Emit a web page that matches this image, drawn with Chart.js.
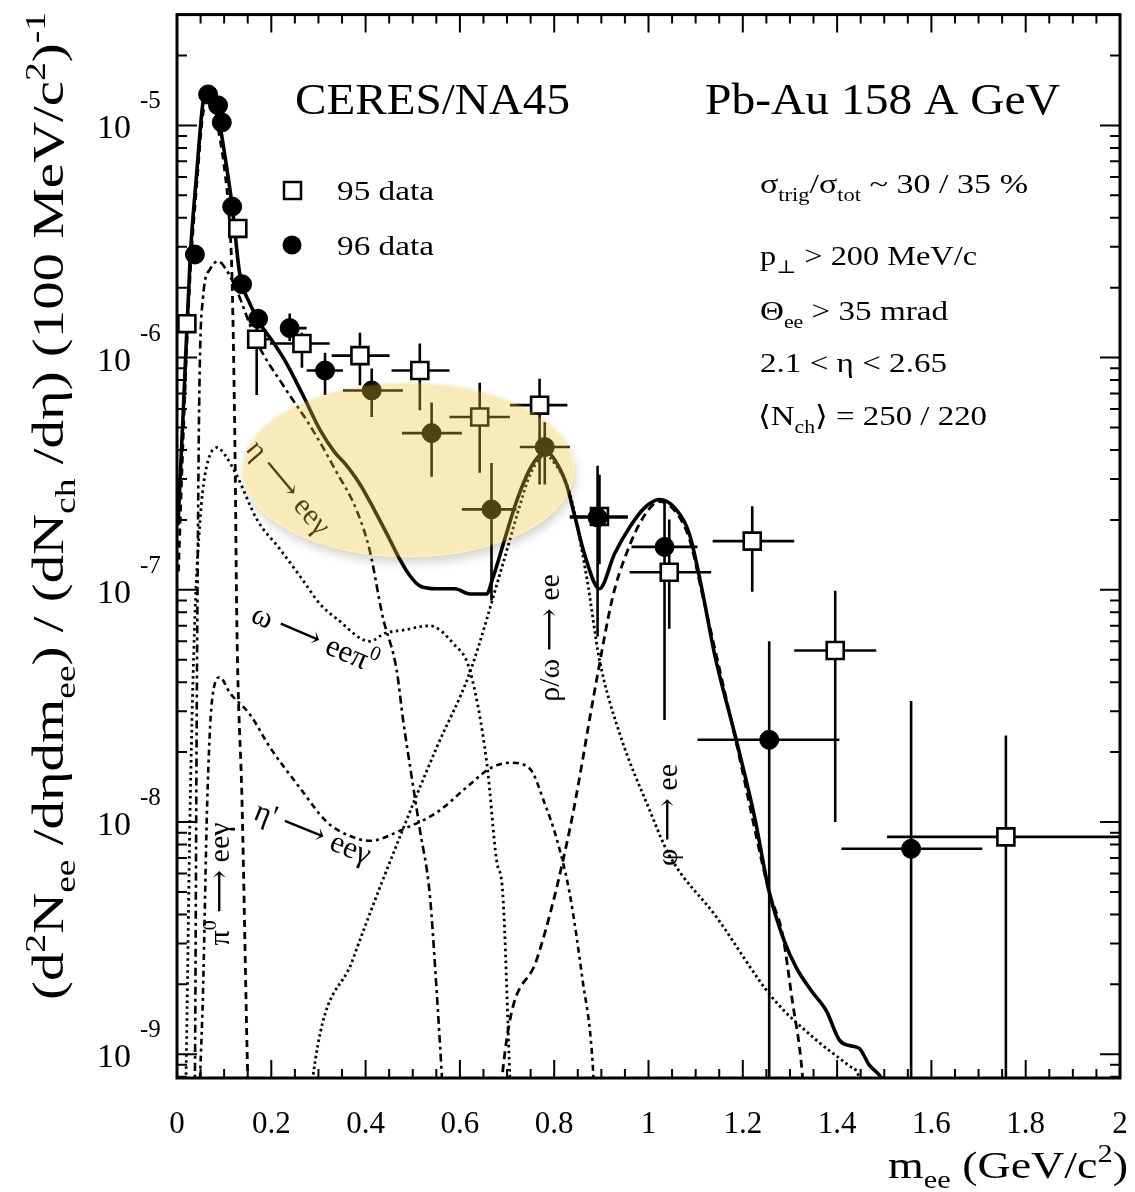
<!DOCTYPE html>
<html>
<head>
<meta charset="utf-8">
<script src="https://cdn.jsdelivr.net/npm/chart.js@4"></script>
<style>
  html, body { margin: 0; background: #fff; }
</style>
</head>
<body>
<canvas id="chart" width="1135" height="1192"></canvas>
<script>
const FONT = '"Liberation Serif", "DejaVu Serif", serif';

// Cocktail curves (m_ee in GeV/c^2, yield per 100 MeV)
const totalM = [0.002, 0.013, 0.028, 0.042, 0.055, 0.064, 0.074, 0.087, 0.102, 0.117, 0.133, 0.155, 0.176, 0.197, 0.229, 0.267, 0.303, 0.335, 0.356, 0.388, 0.419, 0.451, 0.472, 0.494, 0.515, 0.551, 0.589, 0.621, 0.657, 0.669, 0.695, 0.720, 0.748, 0.769, 0.784, 0.801, 0.826, 0.843, 0.864, 0.896, 0.928, 0.960, 0.992, 1.023, 1.055, 1.087, 1.114, 1.140, 1.186, 1.225, 1.256, 1.288, 1.314, 1.345, 1.377, 1.405, 1.426, 1.447, 1.468, 1.494, 1.52];
const totalY = [1.9e-7, 5.7e-7, 2.7e-6, 6.3e-6, 1.25e-5, 1.38e-5, 1.3e-5, 1.1e-5, 7.3e-6, 4.5e-6, 2.3e-6, 1.7e-6, 1.4e-6, 1.22e-6, 9.7e-7, 6.9e-7, 4.9e-7, 3.9e-7, 3.5e-7, 2.85e-7, 2.2e-7, 1.65e-7, 1.36e-7, 1.15e-7, 1.04e-7, 1.01e-7, 1.01e-7, 9.6e-8, 9.6e-8, 1.11e-7, 1.65e-7, 2.4e-7, 3.3e-7, 3.8e-7, 3.93e-7, 3.63e-7, 2.84e-7, 2.1e-7, 1.43e-7, 1.01e-7, 1.43e-7, 1.86e-7, 2.26e-7, 2.45e-7, 2.26e-7, 1.73e-7, 9.9e-8, 5.3e-8, 2.26e-8, 1.05e-8, 5.0e-9, 3.07e-9, 2.35e-9, 1.88e-9, 1.54e-9, 1.15e-9, 1.09e-9, 1.06e-9, 9.0e-10, 7.9e-10, 6e-10];

const pi0M = [0.003, 0.013, 0.028, 0.042, 0.055, 0.066, 0.076, 0.088, 0.102, 0.110, 0.117, 0.123, 0.127, 0.138, 0.150, 0.155];
const pi0Y = [1.2e-7, 4.5e-7, 2.3e-6, 5.6e-6, 1.12e-5, 1.28e-5, 1.18e-5, 9.5e-6, 6.2e-6, 4.2e-6, 2.1e-6, 4e-7, 7e-8, 1.2e-8, 8e-10, 4e-10];

const etaM = [0.036, 0.038, 0.042, 0.047, 0.055, 0.070, 0.087, 0.104, 0.127, 0.170, 0.225, 0.282, 0.339, 0.381, 0.409, 0.436, 0.466, 0.479, 0.497, 0.515, 0.536, 0.551, 0.562, 0.570];
const etaY = [4e-10, 7.9e-10, 3.3e-8, 6.2e-7, 1.8e-6, 2.4e-6, 2.6e-6, 2.4e-6, 1.94e-6, 1.16e-6, 7.6e-7, 5.1e-7, 3.2e-7, 2.2e-7, 1.47e-7, 7.7e-8, 4.5e-8, 2.8e-8, 1.6e-8, 9.3e-9, 4.9e-9, 1.83e-9, 7.9e-10, 4e-10];

const omegaDalM = [0.015, 0.019, 0.028, 0.038, 0.049, 0.059, 0.085, 0.102, 0.127, 0.170, 0.218, 0.267, 0.303, 0.339, 0.409, 0.441, 0.479, 0.536, 0.585, 0.621, 0.657, 0.678, 0.691, 0.706, 0.712];
const omegaDalY = [4e-10, 7.9e-10, 1.2e-8, 7.7e-8, 2.0e-7, 3.1e-7, 4.1e-7, 3.8e-7, 3.1e-7, 2.0e-7, 1.5e-7, 1.1e-7, 8.7e-8, 7.5e-8, 6.0e-8, 6.5e-8, 6.7e-8, 7.0e-8, 5.9e-8, 4.5e-8, 1.8e-8, 6.8e-9, 4.9e-9, 7.9e-10, 4e-10];

const etaPrimeM = [0.045, 0.049, 0.055, 0.064, 0.074, 0.091, 0.112, 0.155, 0.197, 0.261, 0.318, 0.367, 0.409, 0.479, 0.551, 0.621, 0.663, 0.706, 0.748, 0.780, 0.805, 0.833, 0.860, 0.881, 0.890];
const etaPrimeY = [4e-10, 7.9e-10, 1.8e-9, 1.2e-8, 3.3e-8, 4.2e-8, 3.6e-8, 2.9e-8, 2.1e-8, 1.4e-8, 1.0e-8, 8.7e-9, 8.3e-9, 9.3e-9, 1.1e-8, 1.45e-8, 1.7e-8, 1.8e-8, 1.7e-8, 1.2e-8, 8.5e-9, 4.9e-9, 2.1e-9, 9.5e-10, 4e-10];

const rhoM = [0.280, 0.288, 0.373, 0.479, 0.551, 0.621, 0.691, 0.727, 0.748, 0.780, 0.801, 0.833, 0.869, 0.896, 0.939, 1.002, 1.044, 1.144, 1.263, 1.356, 1.426, 1.447, 1.46];
const rhoY = [5e-10, 7.9e-10, 2.56e-9, 9.3e-9, 2.1e-8, 4.4e-8, 1.29e-7, 2.3e-7, 3.1e-7, 3.8e-7, 3.5e-7, 2.6e-7, 1.13e-7, 5.0e-8, 2.4e-8, 1.13e-8, 7.2e-9, 3.9e-9, 1.75e-9, 1.15e-9, 8.9e-10, 7.9e-10, 5e-10];

const phiM = [0.685, 0.691, 0.763, 0.833, 0.890, 0.924, 0.953, 0.992, 1.023, 1.055, 1.087, 1.114, 1.186, 1.256, 1.284, 1.305, 1.326, 1.333];
const phiY = [5e-10, 8.5e-10, 2.56e-9, 9.3e-9, 4.1e-8, 9.3e-8, 1.43e-7, 2.1e-7, 2.4e-7, 2.2e-7, 1.65e-7, 9.6e-8, 2.2e-8, 5.0e-9, 3.3e-9, 1.7e-9, 8.3e-10, 5e-10];

// 95 data (open squares)
const m95   = [0.021, 0.129, 0.169, 0.265, 0.388, 0.515, 0.642, 0.769, 0.896, 1.044, 1.220, 1.396, 1.758];
const y95   = [1.40e-6, 3.6e-6, 1.2e-6, 1.15e-6, 1.02e-6, 8.8e-7, 5.55e-7, 6.24e-7, 2.07e-7, 1.19e-7, 1.62e-7, 5.48e-8, 8.63e-9];
const m95Lo = [0.021, 0.129, 0.159, 0.197, 0.328, 0.455, 0.578, 0.706, 0.833, 0.960, 1.136, 1.309, 1.506];
const m95Hi = [0.021, 0.129, 0.197, 0.324, 0.451, 0.578, 0.706, 0.828, 0.956, 1.133, 1.309, 1.483, 2.0];
const y95Lo = [1.40e-6, 3.6e-6, 6.9e-7, 9.05e-7, 7.6e-7, 5.94e-7, 3.19e-7, 2.84e-7, 1.29e-7, 6.8e-8, 9.8e-8, 1.0e-8, 1e-10];
const y95Hi = [1.40e-6, 3.6e-6, 1.45e-6, 1.28e-6, 1.28e-6, 1.15e-6, 7.8e-7, 8.1e-7, 3.13e-7, 2.01e-7, 2.29e-7, 9.9e-8, 2.36e-8];

// 96 data (filled circles)
const m96   = [0.038, 0.066, 0.087, 0.095, 0.117, 0.138, 0.172, 0.239, 0.314, 0.413, 0.540, 0.667, 0.780, 0.892, 1.034, 1.256, 1.557];
const y96   = [2.78e-6, 1.36e-5, 1.22e-5, 1.03e-5, 4.47e-6, 2.07e-6, 1.47e-6, 1.34e-6, 8.8e-7, 7.22e-7, 4.73e-7, 2.22e-7, 4.12e-7, 2.05e-7, 1.53e-7, 2.26e-8, 7.67e-9];
const m96Lo = [0.038, 0.066, 0.087, 0.095, 0.117, 0.138, 0.172, 0.225, 0.275, 0.352, 0.477, 0.604, 0.727, 0.833, 0.964, 1.104, 1.409];
const m96Hi = [0.038, 0.066, 0.087, 0.095, 0.117, 0.138, 0.172, 0.275, 0.352, 0.479, 0.604, 0.720, 0.833, 0.956, 1.104, 1.405, 1.708];
const y96Lo = [2.78e-6, 1.36e-5, 1.22e-5, 1.03e-5, 4.47e-6, 2.07e-6, 1.47e-6, 1.18e-6, 6.9e-7, 5.55e-7, 3.07e-7, 9e-8, 2.84e-7, 6.3e-8, 2.75e-8, 1e-10, 1e-10];
const y96Hi = [2.78e-6, 1.36e-5, 1.22e-5, 1.03e-5, 4.47e-6, 2.07e-6, 1.47e-6, 1.55e-6, 1.05e-6, 8.97e-7, 6.4e-7, 3.52e-7, 5.27e-7, 3.42e-7, 2.45e-7, 6.0e-8, 3.32e-8];

// axes
const xTicks = [0, 0.2, 0.4, 0.6, 0.8, 1, 1.2, 1.4, 1.6, 1.8, 2];
const xTickLabels = ['0', '0.2', '0.4', '0.6', '0.8', '1', '1.2', '1.4', '1.6', '1.8', '2'];
const yDecades = [-9, -8, -7, -6, -5];

// highlighted region (data coords)
const hlM = [0.138, 0.843];
const hlY = [1.38e-7, 7.8e-7];

const pts = (ms, ys) => ms.map((m, i) => ({ x: m, y: ys[i] }));

function drawRich(ctx, parts, x, y, size, align, fitW) {
  const list = parts.map(p => Array.isArray(p) ? { t: p[0], k: p[1] } : { t: p, k: '' });
  let w = 0;
  list.forEach(s => {
    s.size = s.k ? size * 0.66 : size;
    ctx.font = s.size + 'px ' + FONT;
    s.w = ctx.measureText(s.t).width;
    w += s.w;
  });
  const sx = fitW ? fitW / w : 1;
  const tw = w * sx;
  const x0 = align === 'center' ? x - tw / 2 : align === 'right' ? x - tw : x;
  ctx.save();
  ctx.translate(x0, y);
  ctx.scale(sx, 1);
  ctx.textAlign = 'left';
  ctx.textBaseline = 'alphabetic';
  let cx = 0;
  list.forEach(s => {
    ctx.font = s.size + 'px ' + FONT;
    const dy = s.k === 'sub' ? size * 0.28 : s.k === 'sup' ? -size * 0.42 : 0;
    ctx.fillText(s.t, cx, dy);
    cx += s.w;
  });
  ctx.restore();
}

function rotLabel(ctx, parts, cx, cy, deg, size) {
  ctx.save();
  ctx.translate(cx, cy);
  ctx.rotate(deg * Math.PI / 180);
  drawRich(ctx, parts, 0, size * 0.33, size, 'center');
  ctx.restore();
}

const decor = {
  id: 'decor',
  beforeDatasetsDraw(chart) {
    const { ctx, chartArea: a, scales: { x, y } } = chart;
    ctx.save();
    ctx.beginPath();
    ctx.rect(a.left, a.top, a.right - a.left, a.bottom - a.top);
    ctx.clip();
    ctx.strokeStyle = '#000';
    ctx.lineWidth = 2.6;
    const bars = (ms, lo, hi, ys, ylo, yhi) => ms.forEach((m, i) => {
      const px = x.getPixelForValue(m), py = y.getPixelForValue(ys[i]);
      ctx.beginPath();
      ctx.moveTo(x.getPixelForValue(lo[i]), py);
      ctx.lineTo(x.getPixelForValue(hi[i]), py);
      ctx.moveTo(px, y.getPixelForValue(ylo[i]));
      ctx.lineTo(px, y.getPixelForValue(yhi[i]));
      ctx.stroke();
    });
    bars(m95, m95Lo, m95Hi, y95, y95Lo, y95Hi);
    bars(m96, m96Lo, m96Hi, y96, y96Lo, y96Hi);
    ctx.restore();
  },
  afterDatasetsDraw(chart) {
    const { ctx, scales: { x, y } } = chart;
    ctx.save();
    ctx.fillStyle = '#000';
    // curve labels
    rotLabel(ctx, ['η ⟶ eeγ'], 289, 487, 50, 30);
    rotLabel(ctx, ['ω ⟶ eeπ', ['0', 'sup']], 315, 638, 23, 31);
    rotLabel(ctx, ["η' ⟶ eeγ"], 313, 832, 22, 31);
    rotLabel(ctx, ['π', ['0', 'sup'], ' ⟶ eeγ'], 219, 884, -90, 30);
    rotLabel(ctx, ['ρ/ω ⟶ ee'], 549, 638, -90, 30);
    rotLabel(ctx, ['φ ⟶ ee'], 667, 815, -90, 30);

    // highlight ellipse
    const x0 = x.getPixelForValue(hlM[0]), x1 = x.getPixelForValue(hlM[1]);
    const y0 = y.getPixelForValue(hlY[1]), y1 = y.getPixelForValue(hlY[0]);
    const cx = (x0 + x1) / 2, cy = (y0 + y1) / 2, rx = (x1 - x0) / 2, ry = (y1 - y0) / 2;
    ctx.save();
    ctx.beginPath();
    ctx.rect(0, 0, chart.width, chart.height);
    ctx.ellipse(cx, cy, rx, ry, 0, 0, Math.PI * 2);
    ctx.clip('evenodd');
    ctx.filter = 'blur(5px)';
    ctx.fillStyle = 'rgba(0,0,0,0.16)';
    ctx.beginPath();
    ctx.ellipse(cx + 2, cy + 6, rx, ry, 0, 0, Math.PI * 2);
    ctx.fill();
    ctx.restore();
    ctx.filter = 'blur(1px)';
    ctx.fillStyle = 'rgba(234,196,50,0.34)';
    ctx.beginPath();
    ctx.ellipse(cx, cy, rx, ry, 0, 0, Math.PI * 2);
    ctx.fill();
    ctx.restore();
  },
  afterDraw(chart) {
    const { ctx, chartArea: a, scales: { x, y } } = chart;
    ctx.save();
    ctx.strokeStyle = '#000';
    ctx.fillStyle = '#000';

    // tick marks (inward, all four sides)
    ctx.lineWidth = 2;
    ctx.beginPath();
    for (let i = 0; i <= 40; i++) {
      const px = x.getPixelForValue(i * 0.05);
      const len = i % 4 === 0 ? 18 : 9;
      ctx.moveTo(px, a.bottom); ctx.lineTo(px, a.bottom - len);
      ctx.moveTo(px, a.top); ctx.lineTo(px, a.top + len);
    }
    for (let e = -10; e <= -5; e++) {
      for (let k = 1; k <= 9; k++) {
        const v = k * Math.pow(10, e);
        if (v < y.min || v > y.max) continue;
        const py = y.getPixelForValue(v);
        const len = k === 1 ? 20 : 10;
        ctx.moveTo(a.left, py); ctx.lineTo(a.left + len, py);
        ctx.moveTo(a.right, py); ctx.lineTo(a.right - len, py);
      }
    }
    ctx.stroke();

    // frame
    ctx.lineWidth = 3;
    ctx.strokeRect(a.left, a.top, a.right - a.left, a.bottom - a.top);

    // tick labels
    xTicks.forEach((v, i) => drawRich(ctx, [xTickLabels[i]], x.getPixelForValue(v), 1133, 31, 'center'));
    yDecades.forEach(e => {
      const py = y.getPixelForValue(Math.pow(10, e));
      drawRich(ctx, ['10'], 131, py + 13, 34, 'right');
      drawRich(ctx, ['-' + (-e)], 140, py - 17, 25, 'left');
    });

    // axis titles
    drawRich(ctx, ['m', ['ee', 'sub'], ' (GeV/c', ['2', 'sup'], ')'], 1128, 1178, 37, 'right', 240);
    ctx.save();
    ctx.translate(63, 1000);
    ctx.rotate(-Math.PI / 2);
    drawRich(ctx, ['(d', ['2', 'sup'], 'N', ['ee', 'sub'], ' /dηdm', ['ee', 'sub'], ') / (dN', ['ch', 'sub'],
      ' /dη) (100 MeV/c', ['2', 'sup'], ')', ['-1', 'sup']], 0, 0, 44, 'left', 988);
    ctx.restore();

    // header texts
    drawRich(ctx, ['CERES/NA45'], 295, 114, 44, 'left', 275);
    drawRich(ctx, ['Pb-Au 158 A GeV'], 705, 114, 44, 'left', 355);
    drawRich(ctx, ['σ', ['trig', 'sub'], '/σ', ['tot', 'sub'], ' ~ 30 / 35 %'], 760, 193, 28, 'left', 268);
    drawRich(ctx, ['p', ['⊥', 'sub'], ' > 200 MeV/c'], 760, 265, 28, 'left', 217);
    drawRich(ctx, ['Θ', ['ee', 'sub'], ' > 35 mrad'], 760, 320, 28, 'left', 188);
    drawRich(ctx, ['2.1 < η < 2.65'], 760, 372, 28, 'left', 187);
    drawRich(ctx, ['⟨N', ['ch', 'sub'], '⟩ = 250 / 220'], 758, 425, 28, 'left', 229);

    // legend
    ctx.lineWidth = 2.5;
    ctx.fillStyle = '#fff';
    ctx.fillRect(284, 182, 17, 17);
    ctx.strokeRect(284, 182, 17, 17);
    ctx.fillStyle = '#000';
    ctx.beginPath();
    ctx.arc(292, 245, 9.5, 0, Math.PI * 2);
    ctx.fill();
    drawRich(ctx, ['95 data'], 337, 200, 28, 'left', 97);
    drawRich(ctx, ['96 data'], 337, 255, 28, 'left', 97);
    ctx.restore();
  }
};

const curve = (m, v, dash, w) => ({
  data: pts(m, v), borderColor: '#000', borderWidth: w, borderDash: dash,
  pointRadius: 0, fill: false, cubicInterpolationMode: 'monotone'
});

new Chart(document.getElementById('chart'), {
  type: 'line',
  data: {
    datasets: [
      { label: '96 data', data: pts(m96, y96), showLine: false, pointStyle: 'circle', pointRadius: 9.5,
        pointBackgroundColor: '#000', pointBorderColor: '#000', pointBorderWidth: 1 },
      { label: '95 data', data: pts(m95, y95), showLine: false, pointStyle: 'rect', pointRadius: 12,
        pointBackgroundColor: '#fff', pointBorderColor: '#000', pointBorderWidth: 2.6 },
      curve(totalM, totalY, [], 3.6),
      curve(pi0M, pi0Y, [7, 5], 2.8),
      curve(etaM, etaY, [8, 4, 3, 4], 2.6),
      curve(omegaDalM, omegaDalY, [2.5, 3.5], 2.8),
      curve(etaPrimeM, etaPrimeY, [6, 4, 3, 4], 2.6),
      curve(rhoM, rhoY, [2.5, 3], 2.8),
      curve(phiM, phiY, [8, 5], 2.8)
    ]
  },
  options: {
    responsive: false,
    animation: false,
    devicePixelRatio: 1,
    events: [],
    layout: { padding: { left: 0, right: 15, top: 6, bottom: 0 } },
    plugins: { legend: { display: false }, tooltip: { enabled: false } },
    scales: {
      x: {
        type: 'linear', min: 0, max: 2,
        ticks: { display: false }, grid: { display: false }, border: { display: false },
        afterFit: s => { s.height = 114; }
      },
      y: {
        type: 'logarithmic', min: 7.9e-10, max: 3.0e-5,
        ticks: { display: false }, grid: { display: false }, border: { display: false },
        afterFit: s => { s.width = 177; }
      }
    }
  },
  plugins: [decor]
});
</script>
</body>
</html>
